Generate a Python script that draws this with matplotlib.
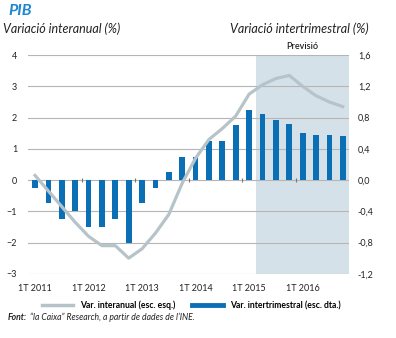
import numpy as np
import matplotlib
matplotlib.use("Agg")
import matplotlib.pyplot as plt
from matplotlib.lines import Line2D

plt.rcParams['font.family'] = ['Lato', 'DejaVu Sans']

# quarters 1T 2011 .. 4T 2016
years = ["2011", "2012", "2013", "2014", "2015", "2016"]
year_labels = ["1T " + y for y in years]

# year-on-year change (left axis, %)
interanual = [0.15, -0.35, -0.85, -1.35, -1.8, -2.1, -2.1, -2.5,
              -2.2, -1.7, -1.1, -0.1, 0.7, 1.3, 1.65, 2.05,
              2.75, 3.05, 3.25, 3.35, 3.0, 2.7, 2.5, 2.35]

# quarter-on-quarter change (right axis, %)
intertrimestral = [-0.1, -0.3, -0.5, -0.4, -0.6, -0.6, -0.5, -0.8,
                   -0.3, -0.1, 0.1, 0.3, 0.3, 0.5, 0.5, 0.7,
                   0.9, 0.85, 0.77, 0.72, 0.6, 0.58, 0.58, 0.56]

left_ticks = [-3, -2, -1, 0, 1, 2, 3, 4]
right_ticks = [-1.2, -0.8, -0.4, 0.0, 0.4, 0.8, 1.2, 1.6]
forecast_start = 17  # first forecast quarter index (2T 2015)

blue = "#0b6fb6"
line_col = "#b6c4c9"
shade = "#d5e1e8"
grid_col = "#b5b5b5"
text_col = "#222222"

n = len(interanual)
x = np.arange(n)

fig = plt.figure(figsize=(3.96, 3.38), dpi=100)
ax = fig.add_axes([0.0715, 0.190, 0.811, 0.647])
ax2 = ax.twinx()
ax.set_zorder(ax2.get_zorder() + 1)
ax.patch.set_visible(False)

# right axis: shading, grid, bars
ax2.axvspan(forecast_start - 0.5, n - 0.5, color=shade, lw=0, zorder=0)
ax2.bar(x, intertrimestral, width=0.43, color=blue, zorder=2)
ax2.set_ylim(-1.2, 1.6)
ax2.set_yticks(right_ticks)
ax2.set_yticklabels([("%.1f" % v).replace(".", ",") for v in right_ticks])
ax2.set_axisbelow(True)
ax2.grid(axis='y', color=grid_col, lw=0.8)

# left axis: line
ax.plot(x, interanual, color=line_col, lw=2.3, zorder=3)
ax.set_ylim(-3, 4)
ax.set_yticks(left_ticks)
ax.set_xlim(-0.5, n - 0.5)
ax.set_xticks(x[::4])
ax.set_xticklabels(year_labels)

for a in (ax, ax2):
    for s in a.spines.values():
        s.set_visible(False)
ax.tick_params(axis='x', length=0, pad=7, labelsize=6.5, colors=text_col)
ax.tick_params(axis='y', length=0, pad=8, labelsize=6.5, colors=text_col)
ax2.tick_params(axis='y', length=0, pad=6, labelsize=6.5, colors=text_col)

# year separators on the zero line
sec = ax.secondary_xaxis(3 / 7)
sec.set_xticks(x[3:-1:4] + 0.5)
sec.set_xticklabels([])
sec.tick_params(length=3, direction='inout', color="#777777", width=0.8)
sec.spines['bottom'].set_visible(False)
sec.spines['top'].set_visible(False)

# texts
fig.text(0.02, 0.967, "PIB", fontsize=11.5, fontweight='bold', fontstyle='italic',
         color="#1d87cf", va='center')
fig.text(0.008, 0.915, "Variació interanual (%)", fontsize=9, fontstyle='italic',
         color=text_col, va='center')
fig.text(0.93, 0.915, "Variació intertrimestral (%)", fontsize=9, fontstyle='italic',
         color=text_col, va='center', ha='right')
ax.text((forecast_start - 0.5 + n - 0.5) / 2, 4.12, "Previsió", fontsize=6.5,
        ha='center', va='bottom', color=text_col, fontweight='semibold')

leg_kw = dict(loc='center left', frameon=False, prop={'size': 6.2, 'weight': 'bold'},
              handlelength=3.6, handletextpad=0.8, borderpad=0, borderaxespad=0)
fig.legend([Line2D([], [], color=line_col, lw=2.5)], ["Var. interanual (esc. esq.)"],
           bbox_to_anchor=(0.106, 0.096), **leg_kw)
fig.legend([Line2D([], [], color=blue, lw=3.5)], ["Var. intertrimestral (esc. dta.)"],
           bbox_to_anchor=(0.485, 0.096), **leg_kw)

fig.text(0.02, 0.062, "Font:", fontsize=6.2, fontweight='bold', fontstyle='italic',
         color=text_col, va='center')
fig.text(0.075, 0.062, "“la Caixa” Research, a partir de dades de l’INE.", fontsize=6.2,
         fontstyle='italic', color=text_col, va='center')

fig.savefig("out.png", dpi=100)
